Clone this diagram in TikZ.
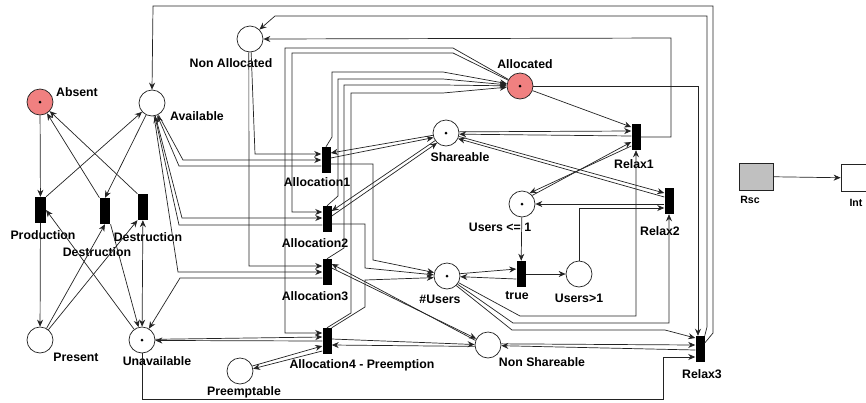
\documentclass[tikz,border=0pt]{standalone}
\usepackage{fontspec}
\setmainfont{Liberation Sans}
\usetikzlibrary{arrows.meta}
\definecolor{marked}{RGB}{240,128,128}
\definecolor{rscgray}{RGB}{192,192,192}
\definecolor{wire}{RGB}{35,35,35}
\tikzset{
  >={Stealth[length=2.1mm,width=1.8mm]},
  place/.style={circle,draw=wire,fill=#1,line width=0.6pt,minimum size=7.8mm,inner sep=0pt},
  place/.default=white,
  token/.style={path picture={\fill[black] (path picture bounding box.center) circle (0.45mm);}},
  trans/.style={fill=black,minimum width=2.7mm,minimum height=7.8mm,inner sep=0pt},
  lbl/.style={font=\fontsize{10.5}{12}\selectfont\bfseries,inner sep=0pt},
  small lbl/.style={lbl,font=\fontsize{9}{10}\selectfont\bfseries},
  flow/.style={->,draw=wire,line width=0.6pt},
}

\begin{document}
\begin{tikzpicture}[x=0.3mm,y=-0.3mm]
  \useasboundingbox (0,0) rectangle (866,402);
  \clip (0,0) rectangle (866,402);

  % places
  \node[place=marked,token] (absent) at (40,102) {};
  \node[place] (avail) at (152,103) {};
  \node[place] (nonalloc) at (250,39) {};
  \node[place=marked,token] (alloc) at (520,86) {};
  \node[place,token] (share) at (446,133) {};
  \node[place,token] (ule1) at (522,204) {};
  \node[place,token] (users) at (447,276) {};
  \node[place] (ugt1) at (579,274) {};
  \node[place] (present) at (40,340) {};
  \node[place,token] (unavail) at (142,340) {};
  \node[place] (preempt) at (240,371) {};
  \node[place] (nonshare) at (488,345) {};

  % transitions
  \node[trans,minimum width=3.2mm] (prod) at (40.5,210) {};
  \node[trans,minimum width=3.2mm] (destr1) at (105,211) {};
  \node[trans,minimum width=3.2mm] (destr2) at (143,207) {};
  \node[trans] (alloc1) at (326,160) {};
  \node[trans] (alloc2) at (327,219) {};
  \node[trans] (alloc3) at (327,272) {};
  \node[trans] (alloc4) at (327,341) {};
  \node[trans] (relax1) at (636,137) {};
  \node[trans] (relax2) at (669,201) {};
  \node[trans] (relax3) at (700,349) {};
  \node[trans] (test) at (521,274) {};

  % resource / interface boxes
  \node[draw=wire,fill=rscgray,line width=0.6pt,minimum width=10.2mm,minimum height=8.1mm,inner sep=0pt] (rsc) at (756,176.5) {};
  \node[draw=wire,line width=0.6pt,minimum width=10.2mm,minimum height=8mm,inner sep=0pt] (int) at (858,178) {};

  % labels
  \node[lbl] at (77,92) {Absent};
  \node[lbl] at (197,116) {Available};
  \node[lbl] at (231,63) {Non Allocated};
  \node[lbl] at (525,64) {Allocated};
  \node[lbl] at (460,157) {Shareable};
  \node[lbl] at (500,227) {Users <= 1};
  \node[lbl] at (440,299) {\#Users};
  \node[lbl] at (517,296) {true};
  \node[lbl] at (579,298) {Users>1};
  \node[lbl] at (43,235) {Production};
  \node[lbl] at (97,252) {Destruction};
  \node[lbl] at (148,237) {Destruction};
  \node[lbl] at (76,357) {Present};
  \node[lbl] at (157,361) {Unavailable};
  \node[lbl] at (244,392) {Preemptable};
  \node[lbl] at (317,182) {Allocation1};
  \node[lbl] at (315,243) {Allocation2};
  \node[lbl] at (315,296) {Allocation3};
  \node[lbl] at (362,365) {Allocation4 - Preemption};
  \node[lbl] at (542,362) {Non Shareable};
  \node[lbl] at (634,164) {Relax1};
  \node[lbl] at (660,231) {Relax2};
  \node[lbl] at (702,374) {Relax3};
  \node[small lbl] at (750,200) {Rsc};
  \node[small lbl] at (856,203) {Int};

  % production / destruction
  \draw[flow] (absent) -- (prod);
  \draw[flow] (prod) -- (present);
  \draw[flow] (prod.north east) -- (avail);
  \draw[flow] (avail) -- (destr1.north);
  \draw[flow] (destr1.north west) -- (absent);
  \draw[flow] (destr2.north west) -- (absent);
  \draw[flow] (present) -- (destr1.south);
  \draw[flow] (present) -- (destr2.south west);
  \draw[flow] (unavail) -- (prod.east);
  \draw[flow] (destr1.south east) -- (unavail);
  \draw[flow,<->] (unavail) -- (destr2);

  % available <-> allocations
  \draw[flow] (avail) -- (183,160) -- (alloc1.west);
  \draw[flow] (alloc1.west|-0,166) -- (179,166) -- (avail);
  \draw[flow] (avail) -- (182,218) -- (alloc2.west|-0,218);
  \draw[flow] (alloc2.west|-0,225) -- (179,225) -- (avail);
  \draw[flow] (avail) -- (178,272) -- (alloc3.west|-0,272);
  \draw[flow] (alloc3.west|-0,278) -- (180,278) -- (unavail);

  % non allocated
  \draw[flow] (nonalloc.-85) -- (255,154) -- (alloc1.west|-0,154);
  \draw[flow] (nonalloc.-95) -- (249,266) -- (alloc3.west|-0,266);

  % allocated
  \draw[flow] (alloc) -- (453,53) -- (292,53) -- (292,212) -- (alloc2.west|-0,212);
  \draw[flow] (alloc) -- (453,48) -- (285,48) -- (285,333) -- (alloc4.west|-0,333);
  \draw[flow] (alloc1.north) -- (332,137) -- (332,72) -- (443,72) -- (alloc);
  \draw[flow] (alloc2.north) -- (338,196) -- (338,79) -- (443,79) -- (alloc);
  \draw[flow] (alloc3.north) -- (344,248) -- (344,85) -- (443,85) -- (alloc);
  \draw[flow] (alloc4.north) -- (351,313) -- (351,93) -- (443,93) -- (alloc);
  \draw[flow] (alloc) -- (relax1.west|-0,127);
  \draw[flow] (alloc.east) -- (698,86) -- (relax3.north-|698,0);

  % shareable
  \draw[flow] (share.190) -- (alloc1.east|-0,153);
  \draw[flow] (alloc1.east|-0,158) -- (share.200);
  \draw[flow] (share.215) -- (alloc2.east|-0,211);
  \draw[flow] (alloc2.east|-0,216) -- (share.228);
  \draw[flow] (share.5) -- (relax1.west|-0,131);
  \draw[flow] (relax1.west|-0,136) -- (share.-5);
  \draw[flow] (share.-15) -- (relax2.west|-0,193);
  \draw[flow] (relax2.west|-0,197) -- (share.-25);

  % users counters
  \draw[flow] (ule1.40) -- (relax1.west|-0,142);
  \draw[flow] (relax1.west|-0,146) -- (ule1.55);
  \draw[flow] (relax2.west|-0,204) -- (ule1.east);
  \draw[flow] (ule1) -- (test);
  \draw[flow] (test) -- (ugt1);
  \draw[flow] (ugt1.north) -- (ugt1.north|-0,208) -- (relax2.west|-0,208);
  \draw[flow] (users.10) -- (test.west|-0,269);
  \draw[flow] (test.west|-0,279) -- (users.-3);
  \draw[flow] (alloc1.east|-0,164) -- (373,164) -- (373,260) -- (users.165);
  \draw[flow] (alloc2.east|-0,224) -- (365,224) -- (365,268) -- (users.175);
  \draw[flow] (alloc4.north east) -- (365,307) -- (365,280) -- (users.187);
  \draw[flow] (users.-30) -- (520,316) -- (636,316) -- (relax1.south);
  \draw[flow] (users.-38) -- (513,323) -- (669,323) -- (relax2.south);
  \draw[flow] (users.-46) -- (512,330) -- (665,330) -- (relax3.west|-0,338);

  % non shareable / preemptable / unavailable
  \draw[flow] (alloc3.east|-0,268) -- (nonshare.152);
  \draw[flow] (nonshare.160) -- (alloc3.east|-0,264);
  \draw[flow] (alloc4.east|-0,339) -- (nonshare.178);
  \draw[flow] (nonshare.186) -- (alloc4.east|-0,345);
  \draw[flow] (preempt.22) -- (alloc4.west|-0,346);
  \draw[flow] (alloc4.west|-0,351) -- (preempt.10);
  \draw[flow] (unavail.3) -- (alloc4.west|-0,337);
  \draw[flow] (alloc4.west|-0,341) -- (unavail.-2);
  \draw[flow] (nonshare.5) -- (relax3.west|-0,345);
  \draw[flow] (relax3.west|-0,350) -- (nonshare.-3);
  \draw[flow] (unavail.south) -- (142,399) -- (663,399) -- (663,357) -- (relax3.west|-0,357);

  % releases back to the pool
  \draw[flow] (relax1.east) -- (671,137) -- (671,38) -- (nonalloc.east);
  \draw[flow] (relax3.north east) -- (707,327) -- (707,16) -- (275,16) -- (nonalloc.45);
  \draw[flow] (relax3.east|-0,343) -- (713,333) -- (713,6) -- (153,6) -- (avail.north);

  \draw[flow] (rsc) -- (int);
\end{tikzpicture}
\end{document}
